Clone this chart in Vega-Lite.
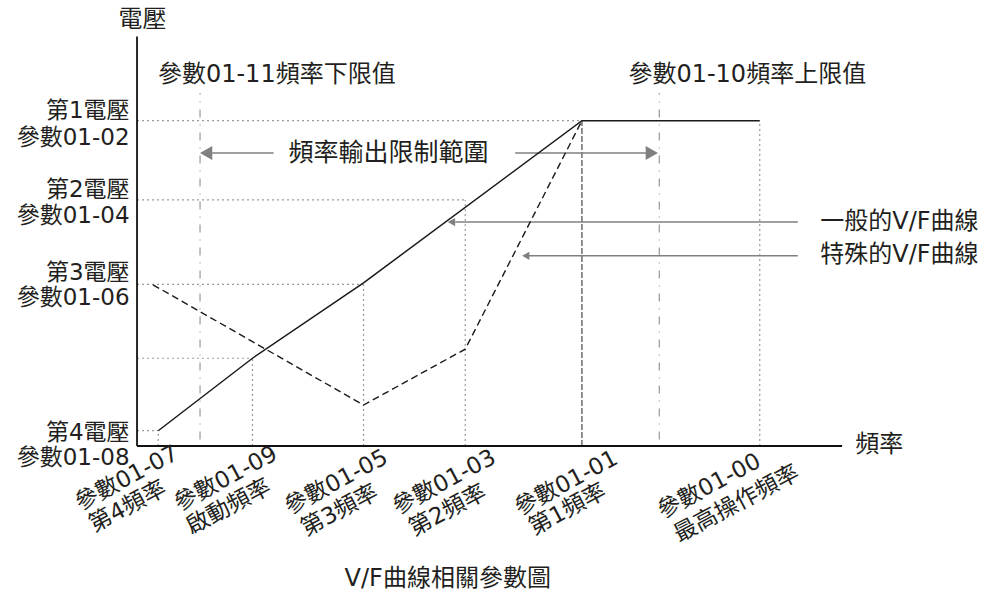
{
  "$schema": "https://vega.github.io/schema/vega-lite/v6.json",
  "width": 994,
  "height": 598,
  "padding": 0,
  "autosize": {"type": "none"},
  "background": "white",
  "config": {"view": {"stroke": null}, "text": {"font": "DejaVu Sans, Noto Sans CJK TC", "color": "#231f20"}},
  "encoding": {
    "x": {"field": "x", "type": "quantitative", "scale": {"domain": [-21.96, 137.34], "nice": false, "zero": false}, "axis": null},
    "y": {"field": "y", "type": "quantitative", "scale": {"domain": [-46.77, 137.23], "nice": false, "zero": false}, "axis": null}
  },
  "layer": [
    {
      "data": {"values": [
        {"x": 0, "y": 100.1, "x2": 71.3, "y2": 100.1},
        {"x": 0, "y": 75.7, "x2": 52.6, "y2": 75.7},
        {"x": 0, "y": 49.7, "x2": 36.3, "y2": 49.7},
        {"x": 0, "y": 27.0, "x2": 18.5, "y2": 27.0},
        {"x": 0, "y": 4.7, "x2": 3.4, "y2": 4.7},
        {"x": 3.4, "y": 0, "x2": 3.4, "y2": 4.7},
        {"x": 18.5, "y": 0, "x2": 18.5, "y2": 27.0},
        {"x": 36.3, "y": 0, "x2": 36.3, "y2": 49.7},
        {"x": 52.6, "y": 0, "x2": 52.6, "y2": 75.7},
        {"x": 99.8, "y": 0, "x2": 99.8, "y2": 100.1}
      ]},
      "mark": {"type": "rule", "color": "#9a9a9a", "strokeWidth": 1.2, "strokeDash": [2, 3]},
      "encoding": {"x2": {"field": "x2"}, "y2": {"field": "y2"}}
    },
    {
      "data": {"values": [{"x": 71.3, "y": 0, "x2": 71.3, "y2": 100.1}]},
      "mark": {"type": "rule", "color": "#555555", "strokeWidth": 1.3, "strokeDash": [6, 2]},
      "encoding": {"x2": {"field": "x2"}, "y2": {"field": "y2"}}
    },
    {
      "data": {"values": [
        {"x": 10.1, "y": 2.0, "x2": 10.1, "y2": 108.6},
        {"x": 83.7, "y": 2.0, "x2": 83.7, "y2": 108.6}
      ]},
      "mark": {"type": "rule", "color": "#999999", "strokeWidth": 1.2, "strokeDash": [8, 7, 1, 7]},
      "encoding": {"x2": {"field": "x2"}, "y2": {"field": "y2"}}
    },
    {
      "data": {"values": [
        {"x": 12.0, "y": 90.15, "x2": 21.9, "y2": 90.15},
        {"x": 60.6, "y": 90.15, "x2": 82.0, "y2": 90.15},
        {"x": 51.0, "y": 68.9, "x2": 105.9, "y2": 68.9},
        {"x": 62.7, "y": 58.5, "x2": 105.9, "y2": 58.5}
      ]},
      "mark": {"type": "rule", "color": "#808080", "strokeWidth": 1.5},
      "encoding": {"x2": {"field": "x2"}, "y2": {"field": "y2"}}
    },
    {
      "data": {"values": [
        {"x": 3.4, "y": 4.7, "o": 1},
        {"x": 18.5, "y": 27.0, "o": 2},
        {"x": 36.3, "y": 50.2, "o": 3},
        {"x": 71.3, "y": 100.1, "o": 4},
        {"x": 99.8, "y": 100.1, "o": 5}
      ]},
      "mark": {"type": "line", "color": "#1a1a1a", "strokeWidth": 1.5},
      "encoding": {"order": {"field": "o", "type": "quantitative"}}
    },
    {
      "data": {"values": [
        {"x": 2.56, "y": 49.6, "o": 1},
        {"x": 36.3, "y": 12.6, "o": 2},
        {"x": 52.6, "y": 29.8, "o": 3},
        {"x": 71.3, "y": 100.1, "o": 4}
      ]},
      "mark": {"type": "line", "color": "#1a1a1a", "strokeWidth": 1.4, "strokeDash": [7, 4]},
      "encoding": {"order": {"field": "o", "type": "quantitative"}}
    },
    {
      "data": {"values": [
        {"x": 0, "y": 0, "x2": 0, "y2": 126.0},
        {"x": 0, "y": 0, "x2": 113.0, "y2": 0}
      ]},
      "mark": {"type": "rule", "color": "#111111", "strokeWidth": 1.8},
      "encoding": {"x2": {"field": "x2"}, "y2": {"field": "y2"}}
    },
    {
      "data": {"values": [{"x": 11.07, "y": 90.15}]},
      "mark": {"type": "point", "shape": "triangle-left", "filled": true, "color": "#808080", "opacity": 1, "size": 200}
    },
    {
      "data": {"values": [{"x": 82.5, "y": 90.15}]},
      "mark": {"type": "point", "shape": "triangle-right", "filled": true, "color": "#808080", "opacity": 1, "size": 200}
    },
    {
      "data": {"values": [{"x": 50.4, "y": 68.9}, {"x": 62.3, "y": 58.5}]},
      "mark": {"type": "point", "shape": "triangle-left", "filled": true, "color": "#808080", "opacity": 1, "size": 70}
    },
    {
      "data": {"values": [
        {"x": -1.2, "y": 100.9, "t": "第1電壓"},
        {"x": -1.2, "y": 92.6, "t": "參數01-02"},
        {"x": -1.2, "y": 76.6, "t": "第2電壓"},
        {"x": -1.2, "y": 68.6, "t": "參數01-04"},
        {"x": -1.2, "y": 51.1, "t": "第3電壓"},
        {"x": -1.2, "y": 43.4, "t": "參數01-06"},
        {"x": -1.2, "y": 1.8, "t": "第4電壓"},
        {"x": -1.2, "y": -5.8, "t": "參數01-08"}
      ]},
      "mark": {"type": "text", "align": "right", "baseline": "alphabetic", "fontSize": 23},
      "encoding": {"text": {"field": "t"}}
    },
    {
      "data": {"values": [
        {"x": 0.88, "y": 128.9, "t": "電壓"},
        {"x": 22.4, "y": 112.1, "t": "參數01-11頻率下限值"},
        {"x": 97.8, "y": 112.1, "t": "參數01-10頻率上限值"}
      ]},
      "mark": {"type": "text", "align": "center", "baseline": "alphabetic", "fontSize": 24},
      "encoding": {"text": {"field": "t"}}
    },
    {
      "data": {"values": [{"x": 40.3, "y": 87.7, "t": "頻率輸出限制範圍"}]},
      "mark": {"type": "text", "align": "center", "baseline": "alphabetic", "fontSize": 25},
      "encoding": {"text": {"field": "t"}}
    },
    {
      "data": {"values": [{"x": 49.8, "y": -43.1, "t": "V/F曲線相關參數圖"}]},
      "mark": {"type": "text", "align": "center", "baseline": "alphabetic", "fontSize": 24},
      "encoding": {"text": {"field": "t"}}
    },
    {
      "data": {"values": [
        {"x": 115.1, "y": -1.8, "t": "頻率"},
        {"x": 109.5, "y": 66.8, "t": "一般的V/F曲線"},
        {"x": 109.5, "y": 56.6, "t": "特殊的V/F曲線"}
      ]},
      "mark": {"type": "text", "align": "left", "baseline": "alphabetic", "fontSize": 24},
      "encoding": {"text": {"field": "t"}}
    },
    {
      "data": {"values": [
        {"x": -1.12, "y": -11.85, "t": "參數01-07"},
        {"x": -0.96, "y": -20.6, "t": "第4頻率"},
        {"x": 14.74, "y": -12.0, "t": "參數01-09"},
        {"x": 15.22, "y": -20.7, "t": "啟動頻率"},
        {"x": 32.45, "y": -13.08, "t": "參數01-05"},
        {"x": 33.01, "y": -21.8, "t": "第3頻率"},
        {"x": 49.76, "y": -13.08, "t": "參數01-03"},
        {"x": 50.32, "y": -21.8, "t": "第2頻率"},
        {"x": 69.31, "y": -13.38, "t": "參數01-01"},
        {"x": 69.55, "y": -21.5, "t": "第1頻率"},
        {"x": 92.23, "y": -14.3, "t": "參數01-00"},
        {"x": 96.63, "y": -19.7, "t": "最高操作頻率"}
      ]},
      "mark": {"type": "text", "align": "center", "baseline": "alphabetic", "fontSize": 23, "angle": 332},
      "encoding": {"text": {"field": "t"}}
    }
  ]
}
